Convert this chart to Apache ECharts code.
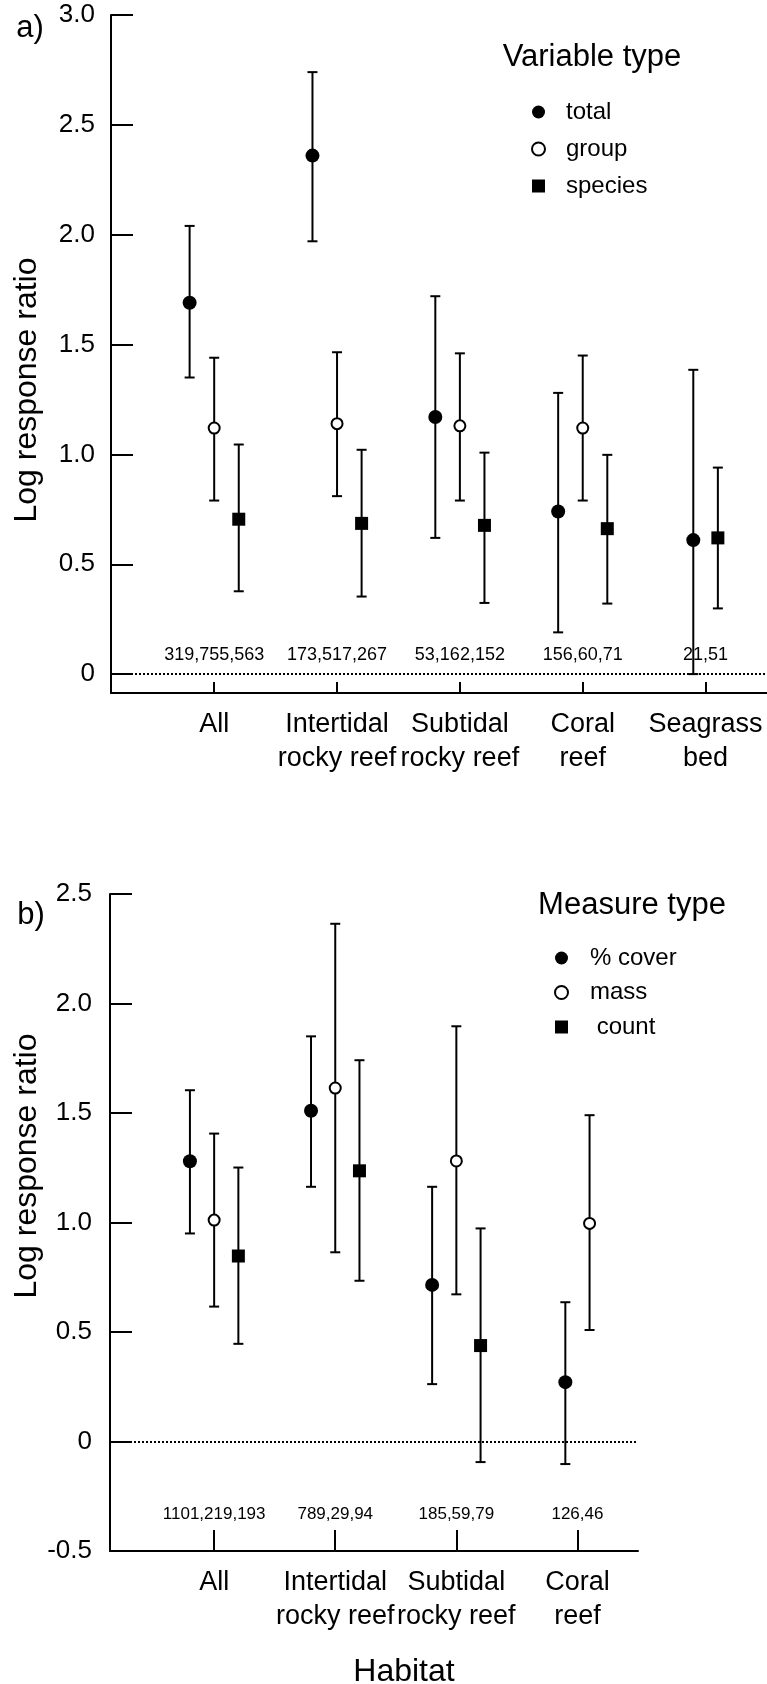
<!DOCTYPE html>
<html><head><meta charset="utf-8">
<script src="https://cdn.jsdelivr.net/npm/echarts@6/dist/echarts.min.js"></script>
<style>html,body{margin:0;padding:0;background:#fff}#c{width:767px;height:1684px}</style>
</head><body><div id="c"></div>
<script>
// ---------- Panel a data (Variable type) ----------
const catsA = ['All', 'Intertidal\nrocky reef', 'Subtidal\nrocky reef', 'Coral\nreef', 'Seagrass\nbed'];
const nA = ['319,755,563', '173,517,267', '53,162,152', '156,60,71', '21,51'];
const totalMean = [1.69, 2.36, 1.17, 0.74, 0.61];
const totalLow  = [1.35, 1.97, 0.62, 0.19, 0.0];
const totalHigh = [2.04, 2.74, 1.72, 1.28, 1.385];
const groupMean = [1.12, 1.14, 1.13, 1.12, null];
const groupLow  = [0.79, 0.81, 0.79, 0.79, null];
const groupHigh = [1.44, 1.465, 1.46, 1.45, null];
const speciesMean = [0.705, 0.686, 0.677, 0.662, 0.62];
const speciesLow  = [0.377, 0.353, 0.324, 0.321, 0.299];
const speciesHigh = [1.045, 1.021, 1.008, 0.998, 0.94];
const ticksA = [0, 0.5, 1.0, 1.5, 2.0, 2.5, 3.0];

// ---------- Panel b data (Measure type) ----------
const catsB = ['All', 'Intertidal\nrocky reef', 'Subtidal\nrocky reef', 'Coral\nreef'];
const nB = ['1101,219,193', '789,29,94', '185,59,79', '126,46'];
const coverMean = [1.28, 1.51, 0.715, 0.271];
const coverLow  = [0.95, 1.163, 0.262, -0.103];
const coverHigh = [1.604, 1.85, 1.163, 0.636];
const massMean = [1.011, 1.614, 1.281, 0.996];
const massLow  = [0.616, 0.864, 0.672, 0.509];
const massHigh = [1.406, 2.364, 1.896, 1.49];
const countMean = [0.847, 1.236, 0.438, null];
const countLow  = [0.446, 0.734, -0.094, null];
const countHigh = [1.251, 1.741, 0.973, null];
const ticksB = [-0.5, 0, 0.5, 1.0, 1.5, 2.0, 2.5];

// ---------- helpers ----------
const FONT = "'Liberation Sans', Arial, Helvetica, sans-serif";
const BLACK = '#000';

function groupX(meansList) {
  const n = meansList[0].length;
  const xs = meansList.map(() => new Array(n).fill(null));
  for (let i = 0; i < n; i++) {
    const present = [];
    meansList.forEach((m, k) => { if (m[i] != null) present.push(k); });
    present.forEach((k, j) => { xs[k][i] = (i + 1) + (j - (present.length - 1) / 2) * 0.2; });
  }
  return xs;
}
function pts(xs, ys) {
  const out = [];
  ys.forEach((y, i) => { if (y != null) out.push([xs[i], y]); });
  return out;
}
function bars(xs, lo, hi) {
  const out = [];
  lo.forEach((l, i) => { if (l != null) out.push([xs[i], l, hi[i]]); });
  return out;
}
function errRender(params, api) {
  const x = api.value(0), lo = api.value(1), hi = api.value(2);
  const p1 = api.coord([x, hi]), p2 = api.coord([x, lo]);
  const cw = 5;
  const style = { stroke: BLACK, lineWidth: 2 };
  return { type: 'group', children: [
    { type: 'line', shape: { x1: p1[0], y1: p1[1], x2: p2[0], y2: p2[1] }, style },
    { type: 'line', shape: { x1: p1[0] - cw, y1: p1[1], x2: p1[0] + cw, y2: p1[1] }, style },
    { type: 'line', shape: { x1: p2[0] - cw, y1: p2[1], x2: p2[0] + cw, y2: p2[1] }, style }
  ]};
}
function errSeries(idx, data) {
  return { type: 'custom', xAxisIndex: idx, yAxisIndex: idx, renderItem: errRender,
    encode: { x: 0, y: [1, 2] }, data, z: 2, clip: false, silent: true };
}
function nSeries(idx, labels, yPos, fs) {
  return { type: 'custom', xAxisIndex: idx, yAxisIndex: idx, silent: true, z: 3,
    data: labels.map((t, i) => [i + 1, yPos, t]),
    encode: { x: 0, y: 1 },
    renderItem: (params, api) => {
      const p = api.coord([api.value(0), api.value(1)]);
      return { type: 'text', x: p[0], y: p[1],
        style: { text: labels[params.dataIndex], fill: BLACK, font: fs + 'px ' + FONT,
          align: 'center', verticalAlign: 'middle', textAlign: 'center', textVerticalAlign: 'middle' } };
    } };
}
const filledCircle = { symbol: 'circle', symbolSize: 14, itemStyle: { color: BLACK, opacity: 1 } };
const openCircle = { symbol: 'circle', symbolSize: 11, itemStyle: { color: '#fff', borderColor: BLACK, borderWidth: 2, opacity: 1 } };
const square = { symbol: 'rect', symbolSize: 13, itemStyle: { color: BLACK, opacity: 1 } };
function markSeries(idx, name, data, sym, extra) {
  return Object.assign({ type: 'scatter', name, xAxisIndex: idx, yAxisIndex: idx, data, z: 5,
    symbol: sym.symbol, symbolSize: sym.symbolSize, itemStyle: sym.itemStyle, silent: true }, extra || {});
}
const zeroLine = { silent: true, symbol: 'none', label: { show: false },
  lineStyle: { type: [2, 2], color: BLACK, width: 2 }, data: [{ yAxis: 0 }] };

const xsA = groupX([totalMean, groupMean, speciesMean]);
const xsB = groupX([coverMean, massMean, countMean]);

function yAxisCfg(idx, min, max, ticks, margin) {
  return { gridIndex: idx, type: 'value', min, max,
    axisLine: { show: true, lineStyle: { color: BLACK, width: 2 } },
    axisTick: { show: true, inside: true, length: 22, customValues: ticks, lineStyle: { color: BLACK, width: 2 } },
    axisLabel: { customValues: ticks, formatter: v => (v === 0 ? '0' : v.toFixed(1)),
      fontFamily: FONT, fontSize: 26, color: BLACK, margin },
    splitLine: { show: false } };
}
function xAxisCfg(idx, min, max, cats, tickLen) {
  const vals = cats.map((_, i) => i + 1);
  return { gridIndex: idx, type: 'value', min, max,
    axisLine: { show: true, onZero: false, lineStyle: { color: BLACK, width: 2 } },
    axisTick: { show: true, inside: true, length: tickLen, customValues: vals, lineStyle: { color: BLACK, width: 2 } },
    axisLabel: { customValues: vals, formatter: v => cats[Math.round(v) - 1],
      fontFamily: FONT, fontSize: 27, lineHeight: 34, color: BLACK, margin: 15 },
    splitLine: { show: false } };
}
function txt(text, x, y, fs, rot) {
  return { type: 'text', x, y, rotation: rot || 0, silent: true,
    style: { text, fill: BLACK, font: fs + 'px ' + FONT, align: 'center', verticalAlign: 'middle',
      textAlign: 'center', textVerticalAlign: 'middle' } };
}

const option = {
  backgroundColor: '#fff',
  animation: false,
  grid: [
    { left: 111, top: 15, width: 656, height: 678 },
    { left: 110, top: 894, width: 528, height: 657 }
  ],
  xAxis: [xAxisCfg(0, 0.16, 5.5, catsA, 11), xAxisCfg(1, 0.14, 4.5, catsB, 21)],
  yAxis: [yAxisCfg(0, -0.086, 3.0, ticksA, 16), yAxisCfg(1, -0.5, 2.5, ticksB, 18)],
  legend: [
    { data: ['total', 'group', 'species'], orient: 'vertical', left: 531, top: 100, padding: 0,
      itemWidth: 13, itemHeight: 13, itemGap: 13, selectedMode: false,
      textStyle: { fontFamily: FONT, fontSize: 24, color: BLACK, lineHeight: 24, padding: [0, 0, 0, 16] } },
    { data: ['% cover', 'mass', 'count'], orient: 'vertical', left: 554, top: 946, padding: 0,
      itemWidth: 13, itemHeight: 13, itemGap: 10.5, selectedMode: false,
      formatter: n => (n === 'count' ? ' ' + n : n),
      textStyle: { fontFamily: FONT, fontSize: 24, color: BLACK, lineHeight: 24, padding: [0, 0, 0, 17] } }
  ],
  graphic: [
    txt('a)', 30, 28, 31),
    txt('b)', 31, 915, 31),
    txt('Log response ratio', 27, 390, 32, Math.PI / 2),
    txt('Log response ratio', 27, 1166, 32, Math.PI / 2),
    txt('Variable type', 592, 57, 31),
    txt('Measure type', 632, 905, 31),
    txt('Habitat', 404, 1672, 32)
  ],
  series: [
    errSeries(0, bars(xsA[0], totalLow, totalHigh)),
    errSeries(0, bars(xsA[1], groupLow, groupHigh)),
    errSeries(0, bars(xsA[2], speciesLow, speciesHigh)),
    markSeries(0, 'total', pts(xsA[0], totalMean), filledCircle, { markLine: zeroLine }),
    markSeries(0, 'group', pts(xsA[1], groupMean), openCircle),
    markSeries(0, 'species', pts(xsA[2], speciesMean), square),
    nSeries(0, nA, 0.086, 18),

    errSeries(1, bars(xsB[0], coverLow, coverHigh)),
    errSeries(1, bars(xsB[1], massLow, massHigh)),
    errSeries(1, bars(xsB[2], countLow, countHigh)),
    markSeries(1, '% cover', pts(xsB[0], coverMean), filledCircle, { markLine: zeroLine }),
    markSeries(1, 'mass', pts(xsB[1], massMean), openCircle),
    markSeries(1, 'count', pts(xsB[2], countMean), square),
    nSeries(1, nB, -0.334, 17)
  ]
};
const chart = echarts.init(document.getElementById('c'));
chart.setOption(option);
</script>
</body></html>
